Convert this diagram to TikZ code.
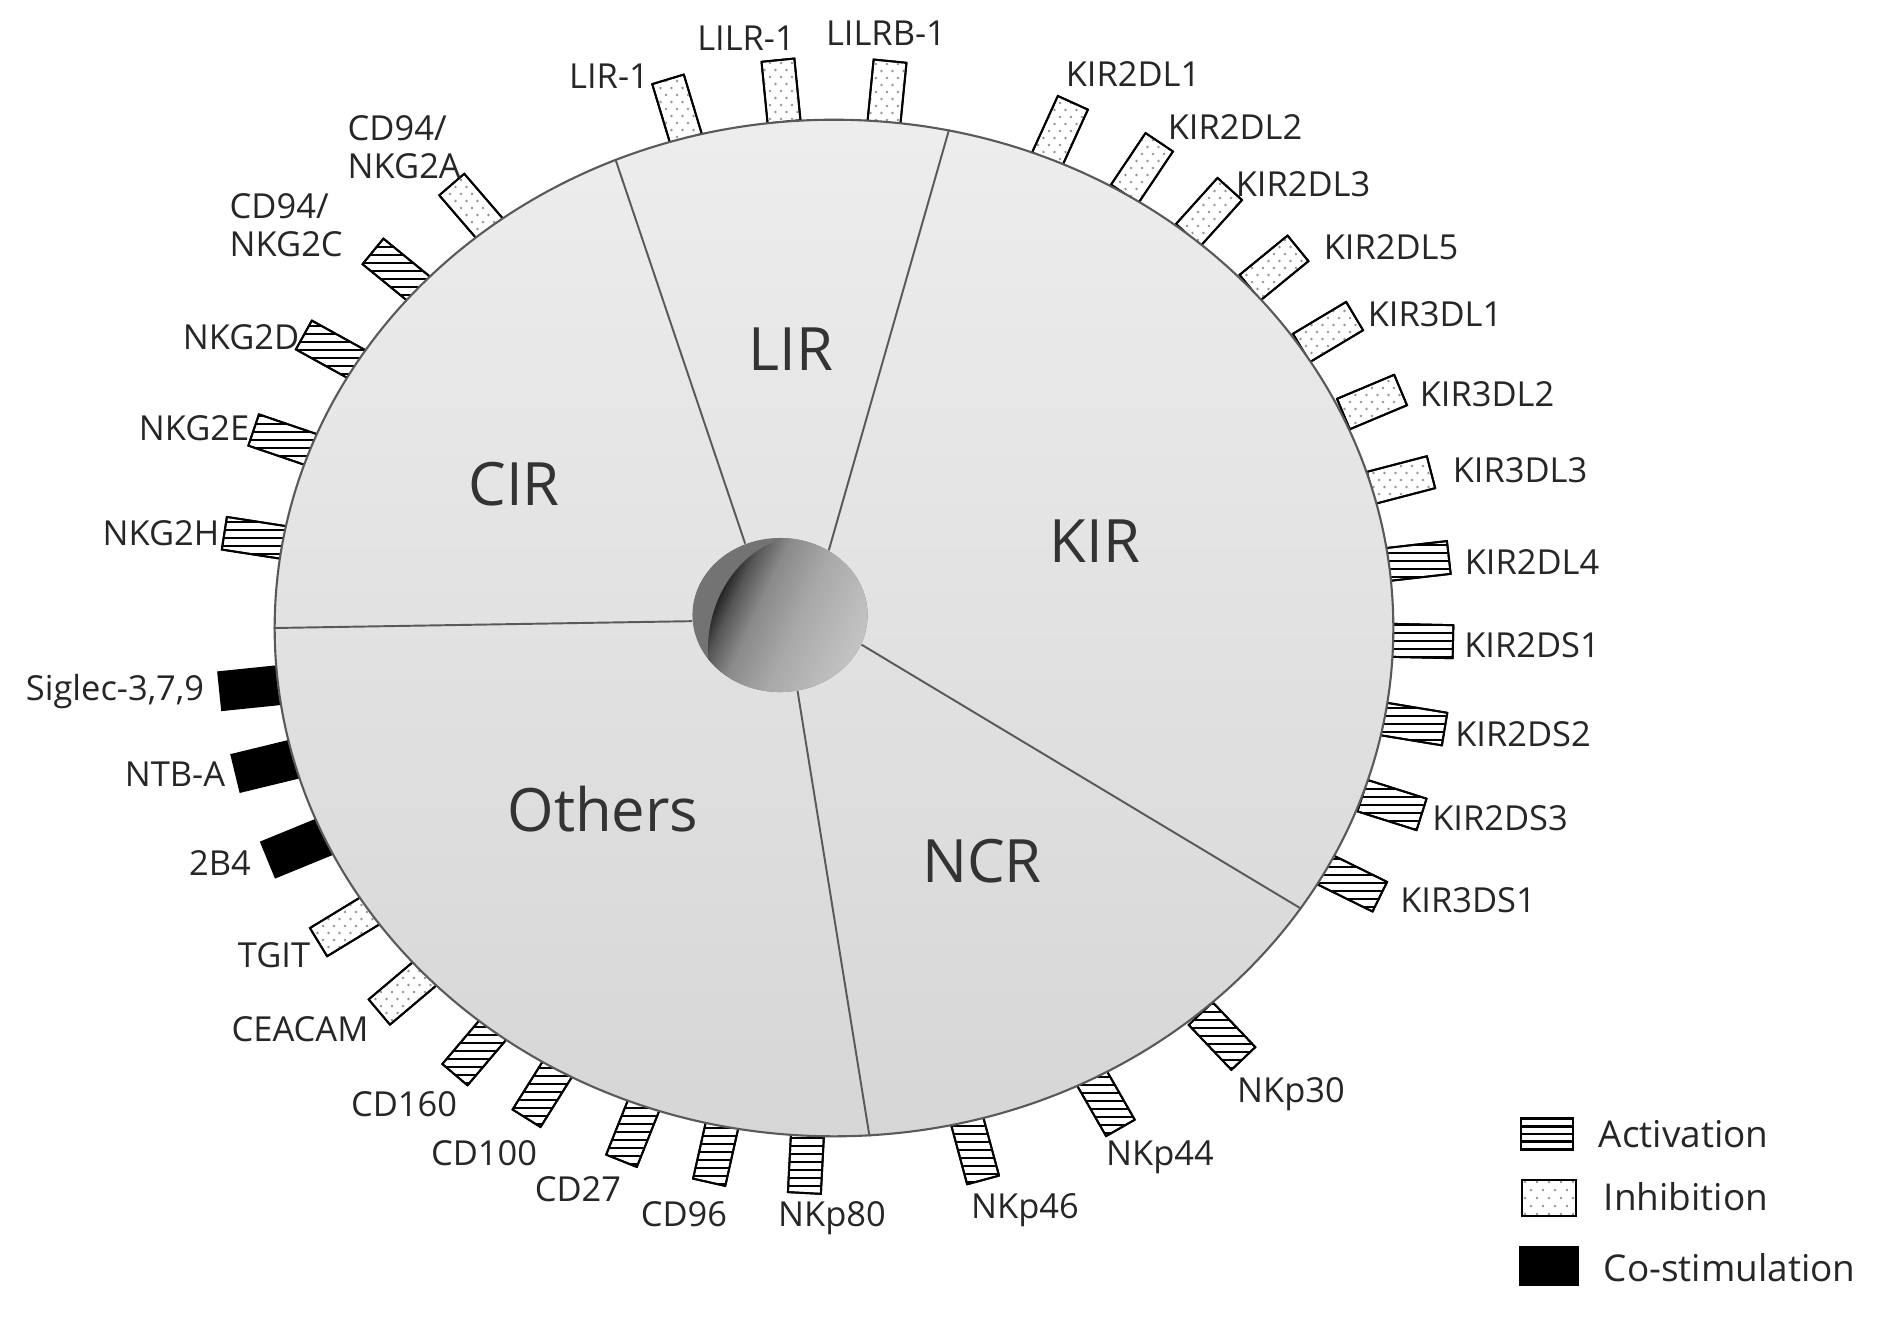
\documentclass[tikz,border=0pt]{standalone}
\usepackage{fontspec}
\setmainfont{Open Sans}
\usetikzlibrary{shapes.geometric}

\pgfdeclarehorizontalshading{ballsh}{100bp}{color(0bp)=(black!88); color(25bp)=(black!88);
  color(29bp)=(black!66); color(35bp)=(black!46); color(45bp)=(black!34); color(58bp)=(black!25);
  color(75bp)=(black!18); color(100bp)=(black!18)}

% receptor helpers: name, x, y (pixel coordinates)
\newcommand\rcpdir[2]{\pgfmathsetmacro\rcpang{atan2(628-(#2),(#1)-834)}}
\newcommand\routline[1]{\draw[rline] (#1.north west) -- (#1.north east) -- (#1.south east) -- (#1.south west) -- cycle;}
\newcommand\ract[3]{%
  \rcpdir{#2}{#3}%
  \node[rbox, rotate=\rcpang] (#1) at (#2,#3) {};
  \begin{scope}
    \clip (#1.north west) -- (#1.north east) -- (#1.south east) -- (#1.south west) -- cycle;
    \foreach \k in {-5,...,5} \draw[hatch] (#2-40,#3+\k*8) -- (#2+40,#3+\k*8);
  \end{scope}
  \routline{#1}}
\newcommand\rinh[3]{%
  \rcpdir{#2}{#3}%
  \node[rbox, rotate=\rcpang] (#1) at (#2,#3) {};
  \begin{scope}
    \clip (#1.north west) -- (#1.north east) -- (#1.south east) -- (#1.south west) -- cycle;
    \foreach \i in {-3,...,3}{
      \foreach \j in {-4,-2,0,2,4} \fill[dotc] (#2+\i*11,#3+\j*7) circle[radius=0.014cm];
      \foreach \j in {-5,-3,-1,1,3,5} \fill[dotc] (#2+\i*11+5.5,#3+\j*7) circle[radius=0.014cm];
    }
  \end{scope}
  \routline{#1}}
\newcommand\rcos[3]{%
  \rcpdir{#2}{#3}%
  \node[rbox, fill=black, minimum height=0.38cm, rotate=\rcpang] (#1) at (#2,#3) {};}

\begin{document}
\begin{tikzpicture}[x=0.01cm,y=-0.01cm,
  lab/.style={font=\fontsize{9.8}{10.8}\selectfont, text=black!85, inner sep=0pt, anchor=base},
  seclab/.style={font=\fontsize{17}{20}\selectfont, text=black!80, inner sep=0pt, anchor=base},
  leglab/.style={font=\fontsize{10.5}{12}\selectfont, text=black!85, inner sep=0pt, anchor=base west},
  rbox/.style={rectangle, draw=black, fill=white, line width=0.55pt, inner sep=0pt, outer sep=0pt,
               minimum width=0.62cm, minimum height=0.33cm},
  rline/.style={draw=black, line width=0.55pt, line join=round},
  hatch/.style={draw=black, line width=0.68pt},
  dotc/.style={fill=black!42},
  divider/.style={draw=black!65, line width=0.55pt},
]
\useasboundingbox (0,0) rectangle (1890,1323);

% ---- receptors (drawn first, partly under the cell) ----
\rinh{lir1}{677}{109}
\rinh{lilr1}{781}{91}
\rinh{lilrb1}{887}{92}
\rinh{kir2dl1}{1060}{131}
\rinh{kir2dl2}{1142}{168}
\rinh{kir2dl3}{1209}{212}
\rinh{kir2dl5}{1274}{268}
\rinh{kir3dl1}{1328}{332}
\rinh{kir3dl2}{1372}{402}
\rinh{kir3dl3}{1401}{480}
\ract{kir2dl4}{1418}{561}
\ract{kir2ds1}{1422}{641}
\ract{kir2ds2}{1414}{724}
\ract{kir2ds3}{1392}{805}
\ract{kir3ds1}{1352}{883}
\ract{nkp30}{1222}{1036}
\ract{nkp44}{1105}{1101}
\ract{nkp46}{975}{1150}
\ract{nkp80}{806}{1162}
\ract{cd96}{716}{1152}
\ract{cd27}{633}{1132}
\ract{cd100}{543}{1092}
\ract{cd160}{475}{1051}
\rinh{ceacam}{403}{992}
\rinh{tgit}{345}{926}
\rcos{r2b4}{297}{848}
\rcos{ntba}{266}{766}
\rcos{siglec}{251}{688}
\ract{nkg2h}{255}{538}
\ract{nkg2e}{283}{440}
\ract{nkg2d}{331}{350}
\ract{nkg2c}{397}{271}
\rinh{nkg2a}{472}{208}

% ---- receptor labels ----
\node[lab] (lir1-l) at (609,88) {LIR-1};
\node[lab] (lilr1-l) at (746,50) {LILR-1};
\node[lab] (lilrb1-l) at (886,45) {LILRB-1};
\node[lab] (kir2dl1-l) at (1133,86) {KIR2DL1};
\node[lab] (kir2dl2-l) at (1235,139) {KIR2DL2};
\node[lab] (kir2dl3-l) at (1303,196) {KIR2DL3};
\node[lab] (kir2dl5-l) at (1391,259) {KIR2DL5};
\node[lab] (kir3dl1-l) at (1435,326) {KIR3DL1};
\node[lab] (kir3dl2-l) at (1487,406) {KIR3DL2};
\node[lab] (kir3dl3-l) at (1520,482) {KIR3DL3};
\node[lab] (kir2dl4-l) at (1532,574) {KIR2DL4};
\node[lab] (kir2ds1-l) at (1532,657) {KIR2DS1};
\node[lab] (kir2ds2-l) at (1523,746) {KIR2DS2};
\node[lab] (kir2ds3-l) at (1500,830) {KIR2DS3};
\node[lab] (kir3ds1-l) at (1468,912) {KIR3DS1};
\node[lab] (nkp30-l) at (1291,1102) {NKp30};
\node[lab] (nkp44-l) at (1160,1165) {NKp44};
\node[lab] (nkp46-l) at (1025,1218) {NKp46};
\node[lab] (nkp80-l) at (832,1226) {NKp80};
\node[lab] (cd96-l) at (684,1226) {CD96};
\node[lab] (cd27-l) at (578,1201) {CD27};
\node[lab] (cd100-l) at (484,1165) {CD100};
\node[lab] (cd160-l) at (404,1116) {CD160};
\node[lab] (ceacam-l) at (300,1041) {CEACAM};
\node[lab] (tgit-l) at (274,967) {TGIT};
\node[lab] (r2b4-l) at (220,875) {2B4};
\node[lab] (ntba-l) at (175,786) {NTB-A};
\node[lab] (siglec-l) at (115,700) {Siglec-3,7,9};
\node[lab] (nkg2h-l) at (161,545) {NKG2H};
\node[lab] (nkg2e-l) at (194,440) {NKG2E};
\node[lab] (nkg2d-l) at (241,349) {NKG2D};
\node[lab, anchor=south west, align=left] (nkg2c-l) at (229,258) {CD94/\\NKG2C};
\node[lab, anchor=south west, align=left] (nkg2a-l) at (347,180) {CD94/\\NKG2A};

% ---- cell body ----
\node[ellipse, minimum width=11.18cm, minimum height=10.16cm, inner sep=0pt,
      draw=black!65, line width=0.6pt, top color=black!7, bottom color=black!16] (cell) at (834,628) {};

% ---- central ball ----
\node[ellipse, minimum width=1.75cm, minimum height=1.54cm, inner sep=0pt] (ball) at (780,615) {};
\begin{scope}
  \clip (780,615) ellipse [x radius=0.875cm, y radius=0.77cm];
  \fill[black!55] (680,520) rectangle (880,710);
  \shade[shading=ballsh, shading angle=-25]
    (808,650) ellipse [x radius=1cm, y radius=1.15cm];
\end{scope}

% ---- sector dividers ----
\draw[divider] (ball.116) -- (cell.115.5);
\draw[divider] (ball.53) -- (cell.77.7);
\draw[divider] (ball.-20) -- (cell.-31.1);
\draw[divider] (ball.-77.5) -- (cell.-86);
\draw[divider] (ball.184) -- (cell.180);

% ---- sector labels ----
\node[seclab] (lirL) at (791,370) {LIR};
\node[seclab] (cirL) at (514,505) {CIR};
\node[seclab] (kirL) at (1095,562) {KIR};
\node[seclab] (othL) at (603,831) {Others};
\node[seclab] (ncrL) at (982,882) {NCR};

% ---- legend ----
\node[rbox, minimum width=0.52cm, minimum height=0.32cm] (legA) at (1547,1134) {};
\begin{scope}
  \clip (legA.north west) rectangle (legA.south east);
  \foreach \k in {-2,...,2} \draw[hatch] (1520,1134+\k*7.5) -- (1575,1134+\k*7.5);
\end{scope}
\routline{legA}
\node[leglab] (legAt) at (1598,1147) {Activation};
\node[rbox, minimum width=0.54cm, minimum height=0.36cm] (legI) at (1549,1198) {};
\begin{scope}
  \clip (legI.north west) rectangle (legI.south east);
  \foreach \i in {-2,...,2}{
    \foreach \j in {-2,0,2} \fill[dotc] (1549+\i*12,1198+\j*8) circle[radius=0.014cm];
    \foreach \j in {-1,1} \fill[dotc] (1549+\i*12+6,1198+\j*8) circle[radius=0.014cm];
  }
\end{scope}
\routline{legI}
\node[leglab] (legIt) at (1603,1210) {Inhibition};
\node[rbox, fill=black, minimum width=0.58cm, minimum height=0.38cm] (legC) at (1549,1266) {};
\node[leglab] (legCt) at (1603,1281) {Co-stimulation};
\end{tikzpicture}
\end{document}
